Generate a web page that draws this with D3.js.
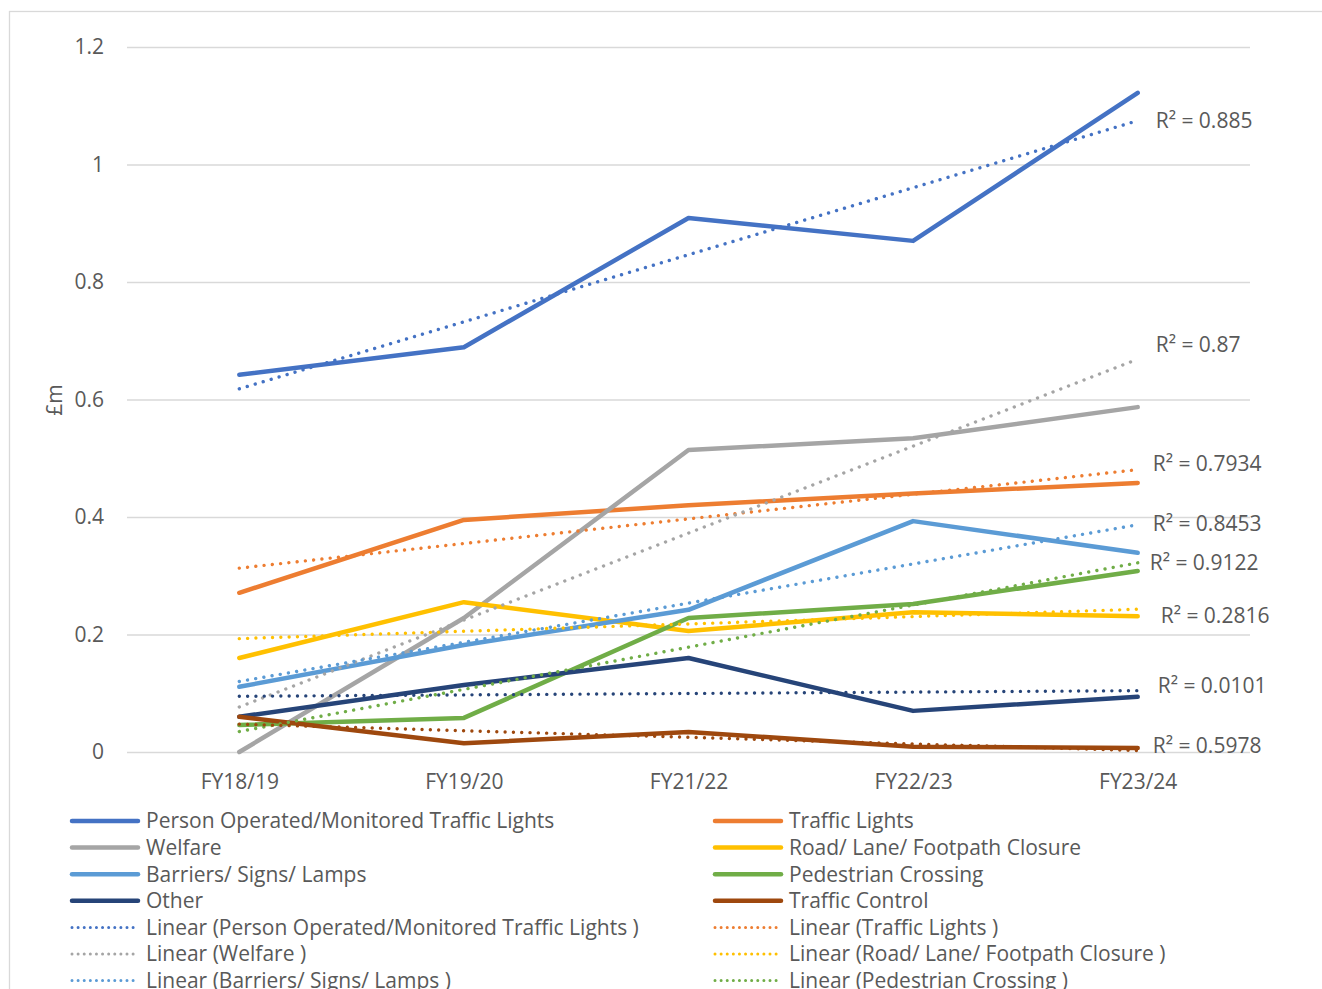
<!DOCTYPE html>
<html>
<head>
<meta charset="utf-8">
<script src="https://cdn.jsdelivr.net/npm/d3@7"></script>
<style>
    body { margin: 0; background: #fff; }
    text { font-family: "Open Sans", "Noto Sans", sans-serif; fill: #595959; }
</style>
</head>
<body>
<svg id="chartSVG" width="1322" height="989"></svg>
<script>

// categories and values (£m)
var years = ['FY18/19', 'FY19/20', 'FY21/22', 'FY22/23', 'FY23/24'];

var seriesNames = [
    'Person Operated/Monitored Traffic Lights',
    'Traffic Lights',
    'Welfare',
    'Road/ Lane/ Footpath Closure',
    'Barriers/ Signs/ Lamps',
    'Pedestrian Crossing',
    'Other',
    'Traffic Control'
];

var personOperated = [0.642, 0.689, 0.909, 0.870, 1.122];
var trafficLights = [0.271, 0.395, 0.420, 0.440, 0.458];
var welfare = [0.000, 0.228, 0.514, 0.534, 0.587];
var roadClosure = [0.160, 0.255, 0.206, 0.238, 0.231];
var barriers = [0.111, 0.182, 0.242, 0.393, 0.339];
var pedestrian = [0.046, 0.058, 0.228, 0.252, 0.308];
var other = [0.060, 0.114, 0.160, 0.070, 0.094];
var trafficControl = [0.060, 0.015, 0.034, 0.009, 0.007];

var rSquared = ['0.885', '0.7934', '0.87', '0.2816', '0.8453', '0.9122', '0.0101', '0.5978'];

var yTicks = [0, 0.2, 0.4, 0.6, 0.8, 1, 1.2];
var yTickLabels = ['0', '0.2', '0.4', '0.6', '0.8', '1', '1.2'];

var seriesValues = [personOperated, trafficLights, welfare, roadClosure, barriers, pedestrian, other, trafficControl];
var colors = ['#4472C4', '#ED7D31', '#A5A5A5', '#FFC000', '#5B9BD5', '#70AD47', '#264478', '#9E480E'];

// nudges for the R² labels so they sit like excel placed them
var labelNudge = [[0, 0], [-3, -6], [0, -15], [5, 6], [-3, -1], [-6, 0], [2, -5], [-3, -5]];

var svg = d3.select('#chartSVG');

// chart area border
svg.append('rect')
    .attr('x', 9.5)
    .attr('y', 11.5)
    .attr('width', 1400)
    .attr('height', 1100)
    .attr('fill', 'none')
    .attr('stroke', '#d9d9d9')
    .attr('stroke-width', 1.3);

var plot = { left: 127, right: 1250, top: 47, bottom: 752 };

var x = d3.scalePoint()
    .domain(years)
    .range([plot.left, plot.right])
    .padding(0.5);

var y = d3.scaleLinear()
    .domain([0, 1.2])
    .range([plot.bottom, plot.top]);

// gridlines + y labels
var yAxis = svg.append('g')
    .attr('transform', 'translate(' + plot.left + ',0)')
    .call(d3.axisLeft(y)
        .tickValues(yTicks)
        .tickFormat(function(d, i) { return yTickLabels[i]; })
        .tickSize(-(plot.right - plot.left))
        .tickPadding(23));

yAxis.select('.domain').remove();
yAxis.selectAll('line')
    .attr('stroke', '#d9d9d9')
    .attr('stroke-width', 1.3);
yAxis.selectAll('text')
    .attr('font-size', 21)
    .style('font-family', '"Open Sans", sans-serif')
    .attr('fill', '#595959');

var xAxis = svg.append('g')
    .attr('transform', 'translate(0,' + plot.bottom + ')')
    .call(d3.axisBottom(x)
        .tickSize(0)
        .tickPadding(22));

xAxis.select('.domain').remove();
xAxis.selectAll('text')
    .attr('font-size', 21)
    .style('font-family', '"Open Sans", sans-serif')
    .attr('fill', '#595959');

svg.append('text')
    .attr('transform', 'translate(55,400) rotate(-90)')
    .attr('text-anchor', 'middle')
    .attr('dy', '0.35em')
    .attr('font-size', 21)
    .text('£m');

var line = d3.line()
    .x(function(d, i) { return x(years[i]); })
    .y(function(d) { return y(d); });

// least squares fit, same as excel's linear trendline
function linearFit(values) {
    var n = values.length;
    var mx = d3.mean(values, function(d, i) { return i + 1; });
    var my = d3.mean(values);
    var num = 0, den = 0;
    for (var i = 0; i < n; i++) {
        num += (i + 1 - mx) * (values[i] - my);
        den += (i + 1 - mx) * (i + 1 - mx);
    }
    var slope = num / den;
    return [my + slope * (1 - mx), my + slope * (n - mx)];
}

svg.selectAll('.serie')
    .data(seriesValues)
    .enter()
    .append('path')
        .attr('class', 'serie')
        .attr('d', line)
        .attr('fill', 'none')
        .attr('stroke', function(d, i) { return colors[i]; })
        .attr('stroke-width', 4.5)
        .attr('stroke-linecap', 'round')
        .attr('stroke-linejoin', 'round');

var trends = seriesValues.map(linearFit);

svg.selectAll('.trend')
    .data(trends)
    .enter()
    .append('line')
        .attr('class', 'trend')
        .attr('x1', x(years[0]))
        .attr('x2', x(years[years.length - 1]))
        .attr('y1', function(d) { return y(d[0]); })
        .attr('y2', function(d) { return y(d[1]); })
        .attr('stroke', function(d, i) { return colors[i]; })
        .attr('stroke-width', 3.4)
        .attr('stroke-linecap', 'round')
        .attr('stroke-dasharray', '0.01,8.3');

svg.selectAll('.rlabel')
    .data(trends)
    .enter()
    .append('text')
        .attr('class', 'rlabel')
        .attr('x', function(d, i) { return x(years[years.length - 1]) + 18 + labelNudge[i][0]; })
        .attr('y', function(d, i) { return y(d[1]) + labelNudge[i][1]; })
        .attr('dy', '0.35em')
        .attr('font-size', 21)
        .text(function(d, i) { return 'R² = ' + rSquared[i]; });

// legend, two columns, filled row by row like excel
var legendItems = [];
seriesNames.forEach(function(name, i) {
    legendItems.push({ label: name, color: colors[i], dotted: false });
});
seriesNames.forEach(function(name, i) {
    legendItems.push({ label: 'Linear (' + name + ' )', color: colors[i], dotted: true });
});

var legend = svg.selectAll('.legend')
    .data(legendItems)
    .enter()
    .append('g')
        .attr('class', 'legend')
        .attr('transform', function(d, i) {
            var col = i % 2;
            var row = Math.floor(i / 2);
            return 'translate(' + (col === 0 ? 70 : 713) + ',' + (821 + row * 26.6) + ')';
        });

legend.append('line')
    .attr('x1', 2)
    .attr('x2', 68)
    .attr('stroke', function(d) { return d.color; })
    .attr('stroke-width', function(d) { return d.dotted ? 3 : 4.5; })
    .attr('stroke-linecap', 'round')
    .attr('stroke-dasharray', function(d) { return d.dotted ? '0.01,6.1' : null; });

legend.append('text')
    .attr('x', 76)
    .attr('dy', '0.35em')
    .attr('font-size', 21)
    .text(function(d) { return d.label; });

</script>
</body>
</html>
